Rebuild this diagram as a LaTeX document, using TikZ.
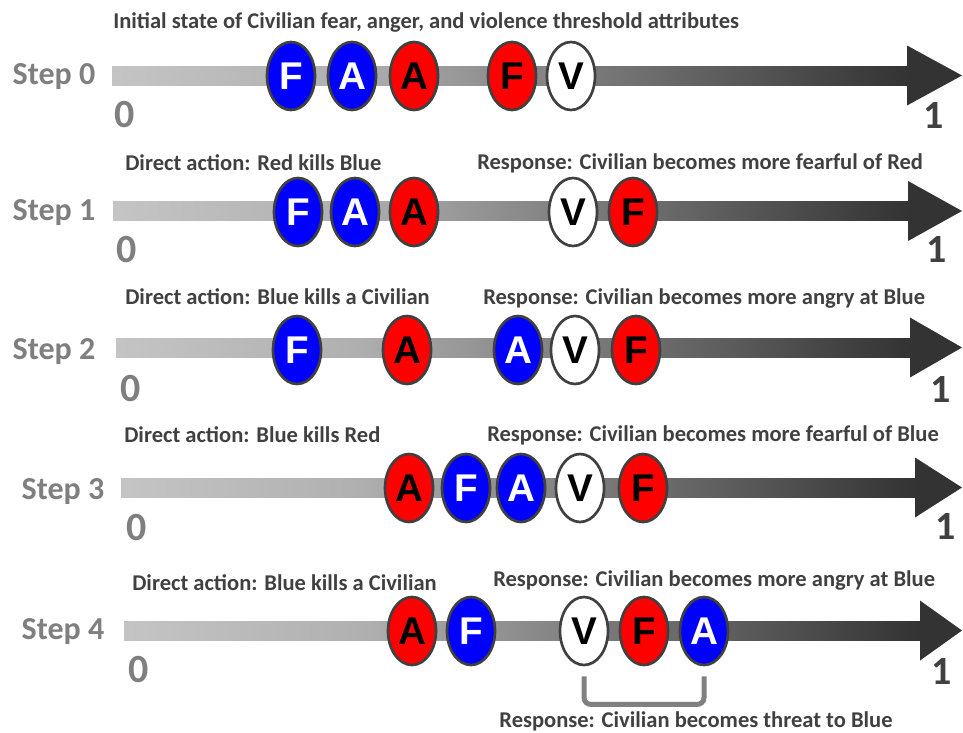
\documentclass[tikz,border=0pt]{standalone}
\usepackage{fontspec}
\setmainfont{Carlito}
\newfontfamily\letterfont{Liberation Sans}
\usetikzlibrary{shapes.geometric}

\definecolor{labelgray}{HTML}{7F7F7F}
\definecolor{textgray}{HTML}{404040}
\definecolor{rimgray}{HTML}{404040}
\definecolor{headgray}{HTML}{333333}
\definecolor{bracketgray}{HTML}{808080}
\colorlet{blueink}{white}
\colorlet{redink}{black}
\colorlet{whiteink}{black}

\pgfdeclarehorizontalshading{barshade}{100bp}{rgb(0bp)=(0.77,0.77,0.77); rgb(25bp)=(0.77,0.77,0.77); rgb(40bp)=(0.69,0.69,0.69); rgb(75bp)=(0.2,0.2,0.2); rgb(100bp)=(0.2,0.2,0.2)}

\tikzset{
  dot/.style={ellipse, draw=rimgray, line width=2pt, fill=#1, text=#1ink,
    minimum width=36pt, minimum height=51pt, inner sep=0pt,
    font=\letterfont\bfseries\fontsize{29}{29}\selectfont},
  steplabel/.style={text=labelgray, inner sep=0pt, font=\bfseries\fontsize{24}{24}\selectfont},
  endzero/.style={text=labelgray, inner sep=0pt, font=\bfseries\fontsize{30}{30}\selectfont},
  endone/.style={text=textgray, inner sep=0pt, font=\bfseries\fontsize{30}{30}\selectfont},
  caption/.style={anchor=west, text=textgray, inner sep=0pt, font=\bfseries\fontsize{16.9}{18}\selectfont},
  bracket/.style={draw=bracketgray, line width=3.75pt, rounded corners=5pt}
}

\begin{document}
\begin{tikzpicture}[x=0.75pt, y=-0.75pt]
  \useasboundingbox (0,0) rectangle (963,732);

  % Draw the bars with their arrow heads
  \foreach \r/\y/\xs/\xb in {0/75.5/112/907, 1/211/113/908, 2/347.5/116/910, 3/487.5/121/915, 4/630.5/124/920} {
    \shade[shading=barshade] (\xs,{\y-9.5}) rectangle (\xb,{\y+9.5});
    \fill[headgray] (\xb,{\y-30}) -- (962,\y) -- (\xb,{\y+30}) -- cycle;
  }

  % Step names and the 0 and 1 ends
  \foreach \r/\sx/\sy/\zx/\zy/\ox/\oy in {0/54/77/125/115/934/116, 1/54/213/127/250/937/250, 2/54/352/131/389/941/390, 3/63/492/137/528/946/527, 4/63/632/139/670/942/672} {
    \node[steplabel] (step\r) at (\sx,\sy) {Step \r};
    \node[endzero] (zero\r) at (\zx,\zy) {0};
    \node[endone] (one\r) at (\ox,\oy) {1};
  }

  % Captions
  \node[caption] (init) at (113,22) {Initial state of Civilian fear, anger, and violence threshold attributes};
  \node[caption] (act1) at (125,163) {Direct action: Red kills Blue};
  \node[caption] (resp1) at (477,163) {Response: Civilian becomes more fearful of Red};
  \node[caption] (act2) at (125,297) {Direct action: Blue kills a Civilian};
  \node[caption] (resp2) at (483,298) {Response: Civilian becomes more angry at Blue};
  \node[caption] (act3) at (124,435) {Direct action: Blue kills Red};
  \node[caption] (resp3) at (487,435) {Response: Civilian becomes more fearful of Blue};
  \node[caption] (act4) at (132,583) {Direct action: Blue kills a Civilian};
  \node[caption] (resp4) at (493,580) {Response: Civilian becomes more angry at Blue};

  % Attribute ellipses on each bar
  \foreach \col/\letter/\x in {blue/F/291, blue/A/352, red/A/414, red/F/512, white/V/571}
    \node[dot=\col] (\col\letter0) at (\x,76) {\letter};
  \foreach \col/\letter/\x in {blue/F/298, blue/A/355, red/A/414, white/V/573, red/F/633}
    \node[dot=\col] (\col\letter1) at (\x,212) {\letter};
  \foreach \col/\letter/\x in {blue/F/297, red/A/407, blue/A/518, white/V/575, red/F/636}
    \node[dot=\col] (\col\letter2) at (\x,350) {\letter};
  \foreach \col/\letter/\x in {red/A/409, blue/F/466, blue/A/521, white/V/580, red/F/643}
    \node[dot=\col] (\col\letter3) at (\x,488) {\letter};
  \foreach \col/\letter/\x in {red/A/412, blue/F/471, white/V/584, red/F/644, blue/A/704}
    \node[dot=\col] (\col\letter4) at (\x,631) {\letter};

  % Bracket under V and A of step 4
  \draw[bracket] ([yshift=-7.5pt]whiteV4.south) -- ++(0,28) -| ([yshift=-7.5pt]blueA4.south);
  \node[caption, anchor=center] (threat) at (696,721) {Response: Civilian becomes threat to Blue};
\end{tikzpicture}
\end{document}
